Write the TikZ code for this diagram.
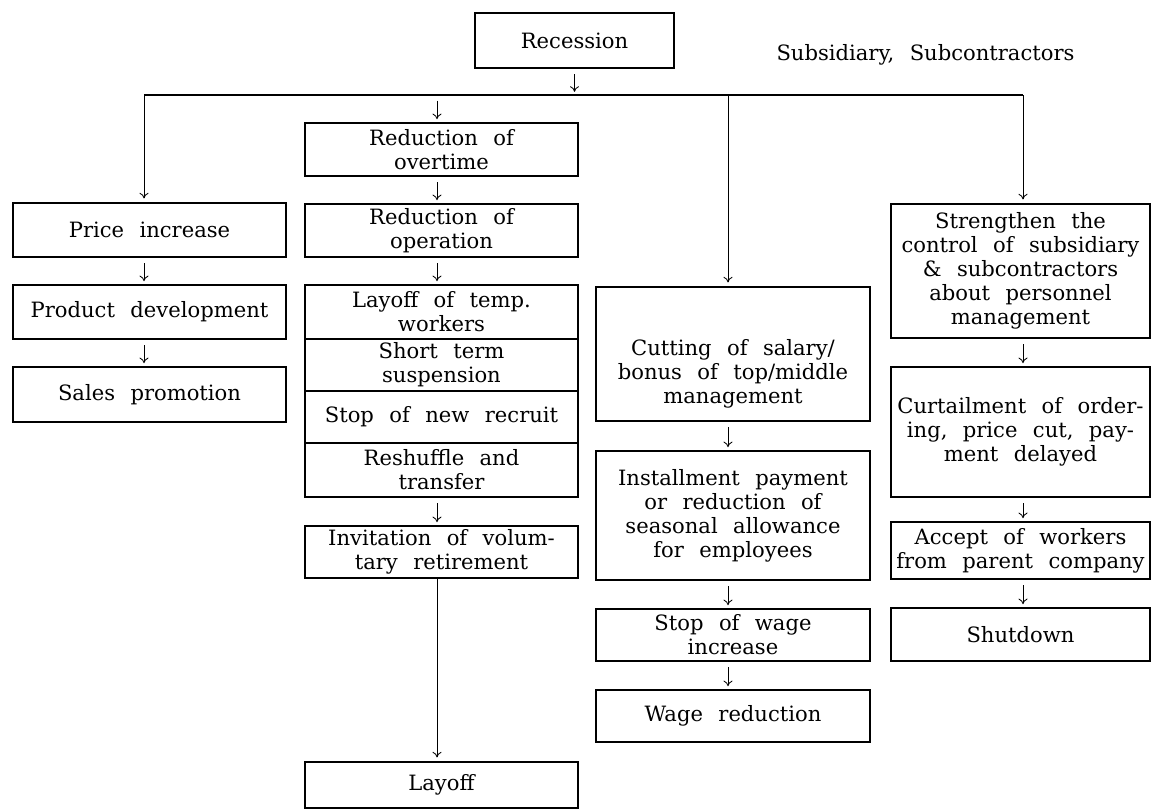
\documentclass[tikz,border=0pt]{standalone}
\usepackage{fontspec}
\setmainfont{DejaVu Serif}[WordSpace=2.3]
\usetikzlibrary{arrows.meta}
\begin{document}
\begin{tikzpicture}[x=0.025cm,y=-0.025cm,
  txt/.style={align=center, inner sep=0pt, font=\fontsize{15}{17}\selectfont},
  box/.style={txt, draw, line width=0.8pt},
  c12/.style={box, minimum width=6.825cm},
  c3/.style={box, minimum width=6.85cm},
  c4/.style={box, minimum width=6.475cm},
  arr/.style={line width=0.6pt, -{To[length=4pt,width=6.5pt]}},
  sarr/.style={arr, shorten <=0.14cm, shorten >=0.08cm},
  larr/.style={arr, shorten >=0.1cm}]
\useasboundingbox (0,0) rectangle (1153,809);

% top
\node[box, minimum width=4.975cm, minimum height=1.375cm] (rec) at (574.5,40.5) {Recession};
\node[txt] (sub) at (925.5,55) {Subsidiary, Subcontractors};
\coordinate (bL) at (144,95);
\coordinate (bR) at (1023,95);
\coordinate (d2) at (437,95);
\coordinate (d3) at (728,95);

% column 1
\node[c12, minimum height=1.35cm] (price) at (149.5,230) {Price increase};
\node[c12, minimum height=1.35cm] (prod) at (149.5,312) {Product development};
\node[c12, minimum height=1.375cm] (sales) at (149.5,394.5) {Sales promotion};

% column 2
\node[c12, minimum height=1.325cm] (over) at (441.5,149.5) {Reduction of\\overtime};
\node[c12, minimum height=1.325cm] (oper) at (441.5,230.5) {Reduction of\\operation};
\node[c12, minimum height=1.35cm] (temp) at (441.5,312) {Layoff of temp.\\workers};
\node[c12, minimum height=1.3cm] (short) at (441.5,365) {Short term\\suspension};
\node[c12, minimum height=1.3cm] (recruit) at (441.5,417) {Stop of new recruit};
\node[c12, minimum height=1.35cm] (resh) at (441.5,470) {Reshuffle and\\transfer};
\node[c12, minimum height=1.3cm] (inv) at (441.5,552) {Invitation of volum-\\tary retirement};
\node[c12, minimum height=1.15cm] (layoff) at (441.5,785) {Layoff};

% column 3
\node[c3, minimum height=3.35cm] (cut) at (733,354) {};
\node[txt] (cuttxt) at (733,374) {Cutting of salary/\\bonus of top/middle\\management};
\node[c3, minimum height=3.225cm] (inst) at (733,515.5) {Installment payment\\or reduction of\\seasonal allowance\\for employees};
\node[c3, minimum height=1.3cm] (swage) at (733,635) {Stop of wage\\increase};
\node[c3, minimum height=1.3cm] (wred) at (733,716) {Wage reduction};

% column 4
\node[c4, minimum height=3.35cm] (str) at (1020.5,271) {Strengthen the\\control of subsidiary\\\& subcontractors\\about personnel\\management};
\node[c4, minimum height=3.25cm] (curt) at (1020.5,432) {Curtailment of order-\\ing, price cut, pay-\\ment delayed};
\node[c4, minimum height=1.425cm] (acc) at (1020.5,550.5) {Accept of workers\\from parent company};
\node[c4, minimum height=1.325cm] (shut) at (1020.5,634.5) {Shutdown};

% connectors
\draw[line width=0.8pt] (bL) -- (bR);
\draw[sarr] (rec.south) -- (rec.south |- bL);

\draw[larr] (bL) -- (bL |- price.north);
\draw[sarr] (price.south -| bL) -- (prod.north -| bL);
\draw[sarr] (prod.south -| bL) -- (sales.north -| bL);

\draw[sarr] (d2) -- (d2 |- over.north);
\draw[sarr] (over.south -| d2) -- (oper.north -| d2);
\draw[sarr] (oper.south -| d2) -- (temp.north -| d2);
\draw[sarr] (resh.south -| d2) -- (inv.north -| d2);
\draw[larr] (inv.south -| d2) -- (layoff.north -| d2);

\draw[larr] (d3) -- (d3 |- cut.north);
\draw[sarr] (cut.south -| d3) -- (inst.north -| d3);
\draw[sarr] (inst.south -| d3) -- (swage.north -| d3);
\draw[sarr] (swage.south -| d3) -- (wred.north -| d3);

\draw[larr] (bR) -- (bR |- str.north);
\draw[sarr] (str.south -| bR) -- (curt.north -| bR);
\draw[sarr] (curt.south -| bR) -- (acc.north -| bR);
\draw[sarr] (acc.south -| bR) -- (shut.north -| bR);
\end{tikzpicture}
\end{document}
